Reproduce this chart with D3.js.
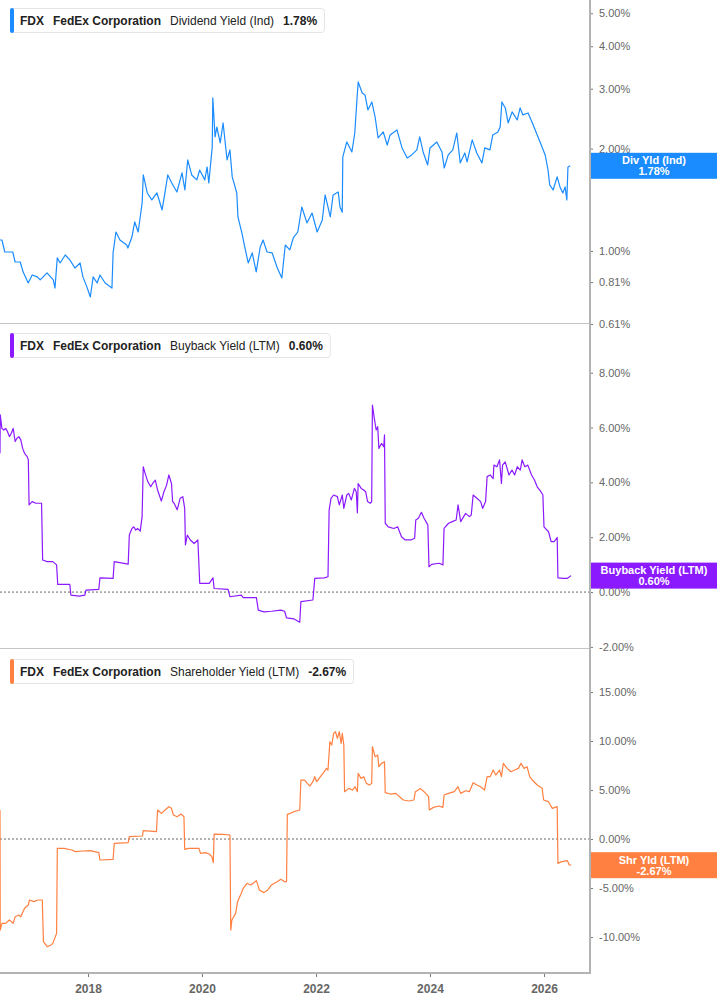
<!DOCTYPE html>
<html><head><meta charset="utf-8">
<script src="https://cdn.jsdelivr.net/npm/d3@7"></script>
<style>body{margin:0;background:#fff;} svg{display:block}</style>
</head><body><svg id="c" width="717" height="1005"></svg>
<script>
// ---- DATA (decimal year, value %) ----
const divSeries = [[2016.456,1.077],[2016.49,1.077],[2016.54,0.993],[2016.63,0.993],[2016.68,0.993],[2016.72,0.928],[2016.81,0.928],[2016.86,0.868],[2016.95,0.805],[2017.02,0.850],[2017.11,0.839],[2017.16,0.822],[2017.28,0.862],[2017.39,0.822],[2017.42,0.778],[2017.46,0.954],[2017.51,0.922],[2017.60,0.973],[2017.68,0.941],[2017.77,0.891],[2017.86,0.922],[2017.91,0.839],[2017.98,0.784],[2018.04,0.732],[2018.09,0.839],[2018.16,0.805],[2018.21,0.850],[2018.30,0.805],[2018.42,0.778],[2018.44,0.987],[2018.49,1.137],[2018.56,1.077],[2018.68,1.041],[2018.70,1.020],[2018.77,1.099],[2018.82,1.217],[2018.88,1.137],[2018.95,1.384],[2018.97,1.673],[2019.04,1.481],[2019.12,1.413],[2019.21,1.481],[2019.30,1.320],[2019.35,1.481],[2019.40,1.673],[2019.47,1.585],[2019.56,1.491],[2019.65,1.696],[2019.70,1.511],[2019.75,1.852],[2019.82,1.673],[2019.91,1.618],[2019.96,1.730],[2020.05,1.618],[2020.09,1.766],[2020.12,1.585],[2020.18,2.022],[2020.19,2.818],[2020.23,2.164],[2020.26,2.315],[2020.32,2.078],[2020.37,2.379],[2020.44,1.852],[2020.49,1.982],[2020.53,1.651],[2020.61,1.481],[2020.63,1.259],[2020.70,1.129],[2020.75,1.027],[2020.81,0.922],[2020.88,0.987],[2020.95,0.868],[2021.02,1.027],[2021.07,1.077],[2021.14,0.993],[2021.23,0.987],[2021.32,0.891],[2021.40,0.833],[2021.46,1.041],[2021.54,1.007],[2021.60,1.092],[2021.68,1.137],[2021.75,1.347],[2021.84,1.209],[2021.93,1.293],[2022.02,1.137],[2022.11,1.234],[2022.16,1.461],[2022.25,1.259],[2022.30,1.461],[2022.39,1.491],[2022.42,1.347],[2022.46,1.300],[2022.47,1.890],[2022.54,2.092],[2022.63,1.955],[2022.68,2.223],[2022.72,2.818],[2022.74,3.141],[2022.81,2.915],[2022.86,2.877],[2022.91,2.598],[2022.98,2.743],[2023.04,2.461],[2023.09,2.149],[2023.18,2.239],[2023.25,2.049],[2023.30,2.194],[2023.42,2.269],[2023.51,2.009],[2023.60,1.877],[2023.68,1.916],[2023.77,1.982],[2023.82,2.164],[2023.88,1.955],[2023.96,1.790],[2024.00,2.009],[2024.12,2.092],[2024.21,1.955],[2024.25,1.754],[2024.32,1.916],[2024.40,1.982],[2024.47,2.223],[2024.53,1.815],[2024.61,1.942],[2024.65,1.827],[2024.74,2.121],[2024.82,1.942],[2024.91,1.815],[2024.96,2.009],[2025.05,1.982],[2025.10,2.194],[2025.19,2.239],[2025.23,2.315],[2025.26,2.743],[2025.32,2.634],[2025.37,2.379],[2025.44,2.564],[2025.53,2.428],[2025.58,2.634],[2025.63,2.512],[2025.72,2.546],[2025.81,2.347],[2025.88,2.194],[2025.93,2.092],[2026.02,1.916],[2026.07,1.730],[2026.10,1.564],[2026.16,1.511],[2026.23,1.651],[2026.28,1.543],[2026.33,1.481],[2026.37,1.543],[2026.40,1.413],[2026.42,1.766],[2026.46,1.78]];

const buybackSeries = [[2016.456,5.06],[2016.46,6.46],[2016.489,5.97],[2016.522,5.91],[2016.555,5.97],[2016.588,5.85],[2016.621,5.67],[2016.654,5.79],[2016.687,5.97],[2016.721,5.49],[2016.754,5.61],[2016.787,5.67],[2016.820,5.55],[2016.853,5.24],[2016.886,5.06],[2016.932,4.94],[2016.952,4.82],[2016.965,3.18],[2017.018,3.30],[2017.084,3.24],[2017.184,3.24],[2017.203,1.17],[2017.283,1.11],[2017.382,1.11],[2017.448,0.99],[2017.468,0.28],[2017.680,0.28],[2017.699,-0.11],[2017.845,-0.15],[2017.944,-0.11],[2017.964,0.07],[2018.189,0.10],[2018.209,0.52],[2018.440,0.50],[2018.460,1.11],[2018.705,1.02],[2018.725,2.08],[2018.771,2.32],[2018.804,2.38],[2018.837,2.26],[2018.870,2.32],[2018.916,2.22],[2018.949,2.74],[2018.969,4.57],[2019.002,4.33],[2019.049,4.03],[2019.101,3.84],[2019.135,3.96],[2019.181,4.08],[2019.221,3.72],[2019.287,3.32],[2019.333,3.66],[2019.379,3.90],[2019.419,4.27],[2019.465,3.96],[2019.485,3.30],[2019.512,3.24],[2019.565,3.00],[2019.617,3.42],[2019.664,3.48],[2019.697,3.05],[2019.710,1.72],[2019.743,2.08],[2019.796,1.90],[2019.862,1.77],[2019.928,1.90],[2019.961,0.32],[2020.127,0.32],[2020.193,0.52],[2020.213,0.13],[2020.457,0.10],[2020.490,-0.17],[2020.689,-0.11],[2020.722,-0.20],[2020.953,-0.20],[2020.986,-0.66],[2021.086,-0.72],[2021.218,-0.70],[2021.383,-0.66],[2021.449,-0.70],[2021.482,-0.94],[2021.615,-0.98],[2021.714,-1.10],[2021.734,-0.35],[2021.945,-0.29],[2021.978,0.50],[2022.144,0.52],[2022.210,0.56],[2022.230,2.99],[2022.263,3.42],[2022.309,3.54],[2022.375,3.48],[2022.408,3.18],[2022.461,3.54],[2022.488,3.05],[2022.540,3.54],[2022.574,3.60],[2022.620,3.36],[2022.673,3.78],[2022.706,3.66],[2022.726,2.89],[2022.739,3.96],[2022.792,3.78],[2022.838,3.72],[2022.871,3.66],[2022.905,3.30],[2022.951,3.24],[2022.977,3.30],[2022.990,6.82],[2023.023,6.34],[2023.056,5.91],[2023.083,6.03],[2023.103,5.24],[2023.149,5.42],[2023.189,5.30],[2023.202,5.73],[2023.215,2.51],[2023.268,2.38],[2023.367,2.32],[2023.433,2.38],[2023.500,2.02],[2023.566,1.90],[2023.665,1.90],[2023.731,1.96],[2023.751,2.63],[2023.797,2.69],[2023.850,2.91],[2023.896,2.69],[2023.963,2.45],[2023.983,0.92],[2024.029,1.01],[2024.161,1.05],[2024.227,0.99],[2024.247,2.32],[2024.326,2.51],[2024.392,2.57],[2024.459,2.63],[2024.492,3.18],[2024.538,2.57],[2024.624,2.87],[2024.690,2.75],[2024.723,2.81],[2024.756,3.54],[2024.822,3.42],[2024.888,3.30],[2024.922,3.05],[2024.974,3.30],[2025.001,4.21],[2025.054,4.27],[2025.107,4.14],[2025.120,4.63],[2025.173,4.57],[2025.219,4.82],[2025.252,3.96],[2025.272,4.63],[2025.318,4.75],[2025.385,4.27],[2025.437,4.45],[2025.484,4.27],[2025.530,4.57],[2025.583,4.45],[2025.616,4.82],[2025.662,4.57],[2025.715,4.63],[2025.781,4.27],[2025.834,4.08],[2025.880,3.84],[2025.946,3.66],[2025.980,3.54],[2025.999,2.38],[2026.079,2.20],[2026.125,1.84],[2026.178,1.84],[2026.231,1.99],[2026.244,0.52],[2026.343,0.50],[2026.410,0.50],[2026.476,0.60]];

const shareholderSeries = [[2016.456,2.96],[2016.46,-9.29],[2016.489,-8.61],[2016.555,-8.61],[2016.621,-8.27],[2016.687,-8.61],[2016.721,-7.93],[2016.787,-7.76],[2016.820,-7.93],[2016.886,-7.07],[2016.952,-6.73],[2016.972,-6.22],[2017.051,-6.39],[2017.117,-6.22],[2017.197,-6.22],[2017.217,-10.48],[2017.283,-10.99],[2017.349,-10.82],[2017.382,-10.65],[2017.448,-9.63],[2017.461,-0.95],[2017.580,-0.95],[2017.713,-1.12],[2017.779,-1.29],[2017.911,-1.22],[2018.043,-1.19],[2018.189,-1.39],[2018.209,-2.14],[2018.440,-2.07],[2018.460,-0.44],[2018.705,-0.37],[2018.725,0.24],[2018.956,0.31],[2018.969,0.85],[2019.201,0.75],[2019.221,2.96],[2019.287,2.62],[2019.353,2.96],[2019.419,3.30],[2019.465,3.13],[2019.498,2.45],[2019.565,2.28],[2019.631,2.55],[2019.684,2.28],[2019.697,-1.05],[2019.763,-0.95],[2019.948,-0.95],[2019.974,-1.46],[2020.060,-1.39],[2020.127,-1.53],[2020.173,-1.80],[2020.199,-2.41],[2020.213,0.51],[2020.358,0.48],[2020.490,0.41],[2020.504,-9.29],[2020.524,-8.27],[2020.590,-7.59],[2020.623,-6.39],[2020.689,-5.54],[2020.722,-5.03],[2020.788,-4.52],[2020.854,-4.69],[2020.953,-4.25],[2021.006,-5.20],[2021.086,-5.47],[2021.152,-5.20],[2021.218,-4.69],[2021.317,-4.35],[2021.383,-4.11],[2021.449,-4.35],[2021.482,-4.35],[2021.496,2.52],[2021.615,2.79],[2021.714,2.96],[2021.734,6.02],[2021.800,6.02],[2021.846,5.68],[2021.893,5.41],[2021.945,5.85],[2021.978,6.36],[2022.012,5.85],[2022.078,6.36],[2022.144,6.87],[2022.184,7.21],[2022.210,7.04],[2022.243,9.93],[2022.276,9.59],[2022.309,10.78],[2022.342,10.95],[2022.375,10.27],[2022.408,10.95],[2022.441,9.76],[2022.461,10.78],[2022.488,9.59],[2022.501,4.83],[2022.574,5.17],[2022.640,5.00],[2022.686,5.34],[2022.726,4.83],[2022.739,6.70],[2022.792,6.19],[2022.838,6.36],[2022.884,5.68],[2022.937,5.51],[2022.977,5.68],[2022.990,9.42],[2023.037,8.40],[2023.083,8.57],[2023.103,7.38],[2023.149,7.72],[2023.202,7.89],[2023.215,4.73],[2023.301,4.59],[2023.400,4.66],[2023.467,4.32],[2023.533,3.98],[2023.632,3.88],[2023.718,3.98],[2023.744,4.83],[2023.797,5.00],[2023.830,5.17],[2023.896,4.83],[2023.976,4.32],[2023.989,2.96],[2024.062,3.23],[2024.161,3.37],[2024.227,3.23],[2024.247,4.49],[2024.326,4.66],[2024.425,4.83],[2024.492,5.34],[2024.538,4.66],[2024.624,4.93],[2024.690,4.83],[2024.756,5.75],[2024.822,5.51],[2024.888,5.34],[2024.955,5.00],[2025.001,6.36],[2025.054,6.36],[2025.107,7.04],[2025.153,6.53],[2025.219,7.04],[2025.252,6.36],[2025.285,7.72],[2025.352,7.21],[2025.418,6.87],[2025.484,7.04],[2025.550,7.21],[2025.596,7.72],[2025.649,7.21],[2025.702,7.38],[2025.748,6.36],[2025.794,6.02],[2025.880,5.51],[2025.967,5.17],[2025.993,3.98],[2026.079,3.81],[2026.145,3.13],[2026.231,3.30],[2026.244,-2.48],[2026.310,-2.31],[2026.410,-2.21],[2026.443,-2.65],[2026.476,-2.67]];

const divTicks = [5, 4, 3, 2, 1, 0.81, 0.61];
const buybackTicks = [8, 6, 4, 2, 0, -2];
const shareholderTicks = [15, 10, 5, 0, -5, -10];
const yearTicks = [2018, 2020, 2022, 2024, 2026];
const timeDomain = [2016.456, 2026.807];

const ticker = "FDX";
const company = "FedEx Corporation";
const seriesNames = ["Dividend Yield (Ind)", "Buyback Yield (LTM)", "Shareholder Yield (LTM)"];
const lastValues = [1.78, 0.60, -2.67];
const badgeNames = ["Div Yld (Ind)", "Buyback Yield (LTM)", "Shr Yld (LTM)"];

// ---- CHART ----
function toDate(y){const yr=Math.floor(y);const s=Date.UTC(yr,0,1),e=Date.UTC(yr+1,0,1);return new Date(s+(y-yr)*(e-s));}
const svg = d3.select("#c");
const plotR = 590;
const x = d3.scaleTime().domain(timeDomain.map(toDate)).range([0, plotR]);
const fmt = v => d3.format(".2f")(v).replace("\u2212","-") + "%";

const panels = [
  {top:0, bottom:323, scale:d3.scaleLog().domain([0.614,5.47]), ticks:divTicks, data:divSeries, color:"#1a8cff", legendY:8, zero:false},
  {top:325, bottom:648, scale:d3.scaleLinear().domain([-2.04,9.74]), ticks:buybackTicks, data:buybackSeries, color:"#8c1aff", legendY:333, zero:true},
  {top:650, bottom:972, scale:d3.scaleLinear().domain([-13.57,19.29]), ticks:shareholderTicks, data:shareholderSeries, color:"#ff8040", legendY:659, zero:true}
];

const defs = svg.append("defs");
panels.forEach((p,i)=>{
  const y = p.scale.range([p.bottom, p.top]);
  defs.append("clipPath").attr("id","clip"+i).append("rect").attr("x",0).attr("y",p.top).attr("width",plotR).attr("height",p.bottom-p.top);
  if(p.zero){
    svg.append("line").attr("x1",0).attr("x2",plotR).attr("y1",y(0)).attr("y2",y(0))
      .attr("stroke","#666").attr("stroke-width",1).attr("stroke-dasharray","2,2");
  }
  const line = d3.line().x(d=>x(toDate(d[0]))).y(d=>y(d[1]));
  svg.append("path").datum(p.data).attr("d",line).attr("fill","none")
    .attr("stroke",p.color).attr("stroke-width",1.2).attr("stroke-linejoin","round")
    .attr("clip-path","url(#clip"+i+")");
  // right axis
  const ax = svg.append("g").attr("transform","translate("+plotR+",0)")
    .call(d3.axisRight(y).tickValues(p.ticks).tickSize(3).tickPadding(6).tickFormat(fmt));
  ax.select(".domain").remove();
  ax.selectAll(".tick line").attr("stroke","#777");
  ax.selectAll(".tick text").attr("fill","#666").attr("font-family","'Liberation Sans', Arial, sans-serif").attr("font-size",11);
  // separator
  if(i<2){
    svg.append("line").attr("x1",0).attr("x2",plotR).attr("y1",p.bottom+0.5).attr("y2",p.bottom+0.5)
      .attr("stroke","#c4c4c4").attr("stroke-width",1);
  }
  // legend
  const lg = svg.append("g");
  const box = lg.append("rect").attr("x",10.5).attr("y",p.legendY+0.5).attr("height",24).attr("rx",3)
    .attr("fill","#fff").attr("stroke","#e4e4e4");
  lg.append("rect").attr("x",10).attr("y",p.legendY).attr("width",4).attr("height",25).attr("rx",2).attr("fill",p.color);
  const t = lg.append("text").attr("x",20).attr("y",p.legendY+17)
    .attr("font-family","'Liberation Sans', Arial, sans-serif").attr("font-size",12).attr("fill","#222");
  t.append("tspan").attr("font-weight","bold").text(ticker);
  t.append("tspan").attr("dx",9).attr("font-weight","bold").text(company);
  t.append("tspan").attr("dx",9).text(seriesNames[i]);
  t.append("tspan").attr("dx",9).attr("font-weight","bold").text(fmt(lastValues[i]));
  const bb = t.node().getBBox();
  box.attr("width", bb.x + bb.width + 7 - 10.5);
  // badge
  const cy = y(lastValues[i]);
  svg.append("rect").attr("x",plotR).attr("y",cy-13).attr("width",717-plotR).attr("height",26).attr("fill",p.color);
  const bt = svg.append("text").attr("text-anchor","middle").attr("fill","#fff").attr("font-weight","bold")
    .attr("font-family","'Liberation Sans', Arial, sans-serif").attr("font-size",11);
  bt.append("tspan").attr("x",654).attr("y",cy-1.5).text(badgeNames[i]);
  bt.append("tspan").attr("x",654).attr("y",cy+9.5).text(fmt(lastValues[i]));
});

// vertical axis line
svg.append("line").attr("x1",plotR).attr("x2",plotR).attr("y1",0).attr("y2",974).attr("stroke","#b3b3b3").attr("stroke-width",2);
// bottom axis
const bx = svg.append("g").attr("transform","translate(0,973)")
  .call(d3.axisBottom(x).tickValues(yearTicks.map(toDate)).tickSize(4).tickPadding(7).tickFormat(d3.timeFormat("%Y")));
bx.select(".domain").remove();
bx.selectAll(".tick line").attr("stroke","#777");
bx.selectAll(".tick text").attr("fill","#666").attr("font-weight","bold").attr("font-family","'Liberation Sans', Arial, sans-serif").attr("font-size",12);
svg.append("line").attr("x1",0).attr("x2",plotR+1).attr("y1",973).attr("y2",973).attr("stroke","#b3b3b3").attr("stroke-width",2);
</script></body></html>
